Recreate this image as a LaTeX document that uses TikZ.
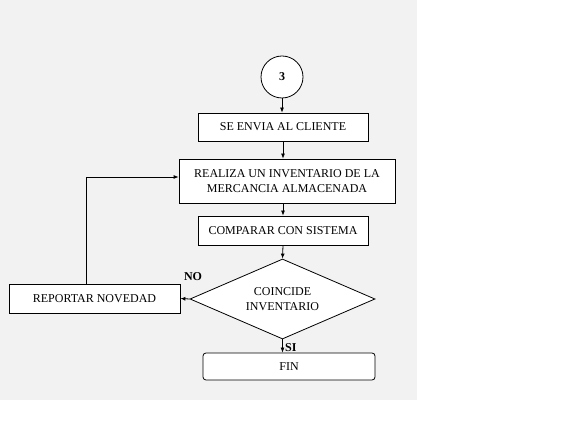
\documentclass[tikz,border=0pt]{standalone}
\usepackage{fontspec}
\setmainfont{Liberation Serif}
\usetikzlibrary{shapes.geometric,arrows.meta}
\begin{document}
\begin{tikzpicture}[x=1pt,y=-1pt,
  box/.style={draw,thick,fill=white,minimum width=170pt,minimum height=28pt,inner sep=0pt,font=\fontsize{12}{14.5}\selectfont,align=center},
  arr/.style={-{Latex[length=5pt,width=4pt]},thick},
  lbl/.style={font=\fontsize{12}{14}\selectfont\bfseries}]
\useasboundingbox (0,0) rectangle (576,438);
\fill[white] (0,0) rectangle (576,438);
\fill[black!5] (0,0) rectangle (417,400);
\node[draw,thick,fill=white,circle,minimum size=42pt,inner sep=0pt,font=\fontsize{12}{14}\selectfont\bfseries] (c3) at (282,77) {3};
\node[box] (envia) at (283,127) {SE ENVIA AL CLIENTE};
\node[box,minimum width=216pt,minimum height=44pt] (realiza) at (287,181) {REALIZA UN INVENTARIO DE LA\\MERCANCIA ALMACENADA};
\node[box,minimum height=29pt] (comparar) at (283,230.5) {COMPARAR CON SISTEMA};
\node[draw,thick,fill=white,diamond,aspect=2.31,minimum width=185pt,minimum height=80pt,inner sep=0pt,font=\fontsize{12}{14.5}\selectfont,align=center] (coincide) at (282.5,299) {COINCIDE\\INVENTARIO};
\node[box,rounded corners=3pt,minimum width=172pt,minimum height=27pt] (fin) at (289,366.5) {FIN};
\node[box,minimum width=171pt,minimum height=29pt] (reportar) at (94.5,298.5) {REPORTAR NOVEDAD};
\draw[arr] (c3.south) -- (c3.south |- envia.north);
\draw[arr] (envia.south) -- (envia.south |- realiza.north);
\draw[arr] (envia.south |- realiza.south) -- (envia.south |- comparar.north);
\draw[arr] (comparar.south) -- (coincide.north);
\draw[arr] (coincide.south) -- (coincide.south |- fin.north) node[lbl,pos=0.6,right=-1pt] {SI};
\draw[arr] (coincide.west) -- (reportar.east);
\node[lbl] (no) at (193,277) {NO};
\coordinate (up) at (86,177);
\draw[arr] (reportar.north -| up) -- (up) -- (realiza.west |- up);
\end{tikzpicture}
\end{document}
